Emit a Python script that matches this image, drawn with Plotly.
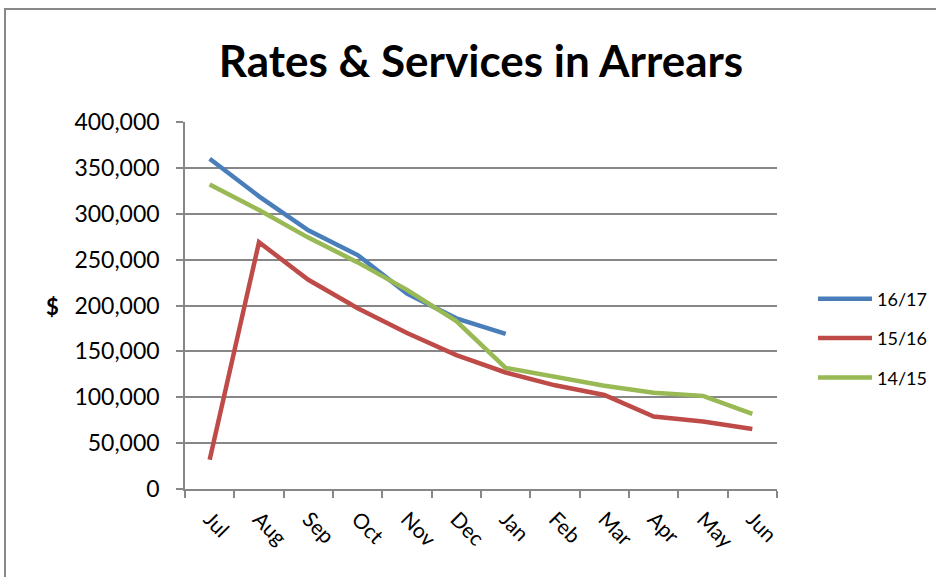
import plotly.graph_objects as go

months = ["Jul", "Aug", "Sep", "Oct", "Nov", "Dec", "Jan", "Feb", "Mar", "Apr", "May", "Jun"]
s1617 = [360000, 319000, 282000, 255000, 213000, 186000, 169000, None, None, None, None, None]
s1516 = [32000, 269000, 228000, 197000, 170000, 146000, 127000, 113000, 102500, 79000, 73500, 65500]
s1415 = [332000, 304000, 274000, 247000, 217000, 183000, 132000, 122000, 112500, 105000, 101500, 82000]

series = [("16/17", s1617, "#4a7ebb"), ("15/16", s1516, "#be4b48"), ("14/15", s1415, "#98b954")]

FONT = "Lato"
fig = go.Figure()
for i, (name, vals, col) in enumerate(series):
    fig.add_trace(go.Scatter(x=months, y=vals, name=name, mode="lines",
                             line=dict(color=col, width=4.5), legendgroup=str(i),
                             connectgaps=False))

L, R, T, B = 185, 777, 122, 489
W, H = 936, 577
grid = "#878787"
fig.update_layout(
    width=W, height=H,
    margin=dict(l=L, r=W - R, t=T, b=H - B, autoexpand=False),
    paper_bgcolor="white", plot_bgcolor="white",
    title=dict(text="<b>Rates & Services in Arrears</b>", x=0.5, xref="paper",
               y=1 - 62 / H, yanchor="middle", xanchor="center",
               font=dict(family=FONT, size=44, color="black")),
    font=dict(family=FONT, color="black"),
    showlegend=True,
    legend=dict(x=(813 - L) / (R - L), y=(B - 297) / (B - T) + 0.045, xanchor="left", yanchor="top",
                font=dict(family=FONT, size=18, color="black"), tracegroupgap=13,
                bgcolor="rgba(0,0,0,0)", itemwidth=54),
    xaxis=dict(type="category", showgrid=False, showline=True, linecolor=grid, linewidth=1.5,
               ticks="outside", tickson="boundaries", ticklen=7, tickcolor=grid, tickwidth=1.5,
               tickangle=45, tickfont=dict(family=FONT, size=21, color="black"),
               ticklabelstandoff=8, range=[-0.5, 11.5]),
    yaxis=dict(range=[0, 400000], tickvals=[0, 50000, 100000, 150000, 200000, 250000, 300000, 350000, 400000],
               ticktext=["0", "50,000", "100,000", "150,000", "200,000", "250,000", "300,000", "350,000", "400,000"],
               showgrid=True, gridcolor=grid, gridwidth=1.5, showline=True, linecolor=grid, linewidth=1.5,
               ticks="outside", ticklen=7, tickcolor=grid, tickwidth=1.5, zeroline=False,
               ticklabelstandoff=12,
               tickfont=dict(family=FONT, size=23, color="black")),
    shapes=[dict(type="rect", xref="paper", yref="paper",
                 x0=(5 - L) / (R - L), x1=(945 - L) / (R - L),
                 y0=(B - 600) / (B - T), y1=(B - 9) / (B - T),
                 line=dict(color="#888888", width=2), layer="below")],
    annotations=[dict(text="<b>$</b>", xref="paper", yref="paper",
                      x=(52 - L) / (R - L), y=(B - 306) / (B - T), showarrow=False,
                      xanchor="center", yanchor="middle",
                      font=dict(family=FONT, size=22, color="black"))],
)

fig.write_html("out.html")
